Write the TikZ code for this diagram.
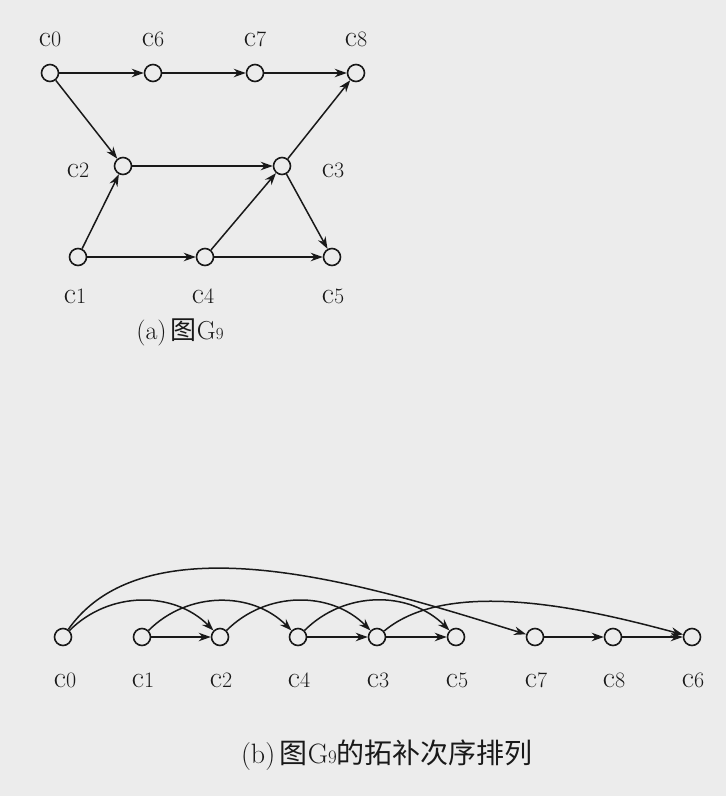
\documentclass[tikz,border=0pt]{standalone}
\usepackage{fontspec}
\newfontfamily\cjk{Noto Sans CJK SC}
\usetikzlibrary{arrows.meta}
\definecolor{bg}{RGB}{236,236,236}
\definecolor{ink}{RGB}{25,25,25}
\newcommand{\vlab}[1]{{\fontsize{30}{32}\selectfont c\fontsize{22}{24}\selectfont #1}}
\begin{document}
\begin{tikzpicture}[x=1pt,y=-1pt,
  vtx/.style={circle,draw=ink,line width=1.6pt,fill=bg,minimum size=17pt,inner sep=0pt},
  arr/.style={draw=ink,-{Stealth[length=12pt,width=8.5pt]},line width=1.5pt},
  lbl/.style={inner sep=0pt,text=ink}]
\fill[bg] (0,0) rectangle (726,796);
\useasboundingbox (0,0) rectangle (726,796);
% ---- (a)
\node[vtx] (a0) at (50,73) {};
\node[vtx] (a6) at (153,73) {};
\node[vtx] (a7) at (255,73) {};
\node[vtx] (a8) at (356,73) {};
\node[vtx] (a2) at (123,166) {};
\node[vtx] (a3) at (282,166) {};
\node[vtx] (a1) at (78,257) {};
\node[vtx] (a4) at (205,257) {};
\node[vtx] (a5) at (332,257) {};
\node[lbl] (la0) at (50,39) {\vlab{0}};
\node[lbl] (la6) at (153,39) {\vlab{6}};
\node[lbl] (la7) at (255,39) {\vlab{7}};
\node[lbl] (la8) at (356,39) {\vlab{8}};
\node[lbl] (la2) at (78,170) {\vlab{2}};
\node[lbl] (la3) at (333,170) {\vlab{3}};
\node[lbl] (la1) at (75,296) {\vlab{1}};
\node[lbl] (la4) at (203,296) {\vlab{4}};
\node[lbl] (la5) at (333,296) {\vlab{5}};
\draw[arr] (a0) -- (a6);
\draw[arr] (a6) -- (a7);
\draw[arr] (a7) -- (a8);
\draw[arr] (a0) -- (a2);
\draw[arr] (a1) -- (a2);
\draw[arr] (a2) -- (a3);
\draw[arr] (a4) -- (a3);
\draw[arr] (a3) -- (a8);
\draw[arr] (a1) -- (a4);
\draw[arr] (a4) -- (a5);
\draw[arr] (a3) -- (a5);
\node[lbl] (capa) at (180,332) {\fontsize{26}{28}\selectfont (a)\,{\cjk 图}G{\fontsize{17}{18}\selectfont 9}};
% ---- (b)
\node[vtx] (b0) at (63,637) {};
\node[vtx] (b1) at (142,637) {};
\node[vtx] (b2) at (220,637) {};
\node[vtx] (b4) at (298,637) {};
\node[vtx] (b3) at (377,637) {};
\node[vtx] (b5) at (456,637) {};
\node[vtx] (b7) at (535,637) {};
\node[vtx] (b8) at (613,637) {};
\node[vtx] (b6) at (692,637) {};
\node[lbl] (lb0) at (65,680) {\vlab{0}};
\node[lbl] (lb1) at (143,680) {\vlab{1}};
\node[lbl] (lb2) at (221,680) {\vlab{2}};
\node[lbl] (lb4) at (299,680) {\vlab{4}};
\node[lbl] (lb3) at (378,680) {\vlab{3}};
\node[lbl] (lb5) at (457,680) {\vlab{5}};
\node[lbl] (lb7) at (536,680) {\vlab{7}};
\node[lbl] (lb8) at (614,680) {\vlab{8}};
\node[lbl] (lb6) at (693,680) {\vlab{6}};
\draw[arr] (b1) -- (b2);
\draw[arr] (b4) -- (b3);
\draw[arr] (b3) -- (b5);
\draw[arr] (b7) -- (b8);
\draw[arr] (b8) -- (b6);
\draw[arr] (b0) to[bend left=45] (b2);
\draw[arr] (b1) to[bend left=45] (b4);
\draw[arr] (b2) to[bend left=45] (b3);
\draw[arr] (b4) to[bend left=45] (b5);
\draw[arr] (b0) to[out=55,in=163,looseness=0.8] (b7);
\draw[arr] (b3) to[out=40,in=165,looseness=0.75] (b6);
\node[lbl] (capb) at (387,755) {\fontsize{28}{32}\selectfont (b)\,{\cjk 图}G{\fontsize{19}{20}\selectfont 9}{\cjk 的拓补次序排列}};
\end{tikzpicture}
\end{document}
